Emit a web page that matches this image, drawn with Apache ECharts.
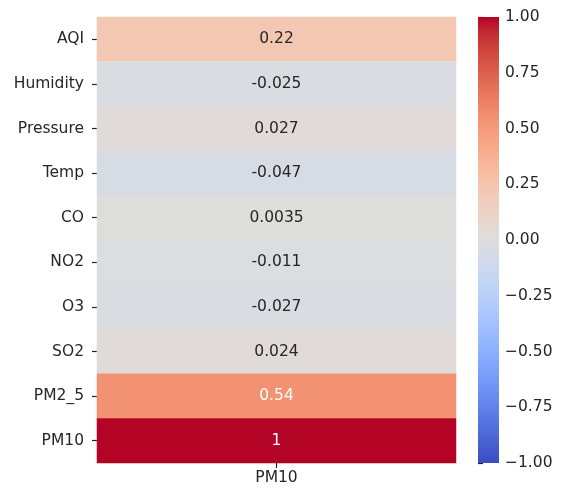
<!DOCTYPE html>
<html>
<head>
<meta charset="utf-8">
<script src="https://cdn.jsdelivr.net/npm/echarts@6/dist/echarts.min.js"></script>
<style>html,body{margin:0;padding:0;background:#fff}#chart{width:562px;height:490px}</style>
</head>
<body>
<div id="chart"></div>
<script>
const rowLabels = ['AQI', 'Humidity', 'Pressure', 'Temp', 'CO', 'NO2', 'O3', 'SO2', 'PM2_5', 'PM10'];
const colLabels = ['PM10'];
const corrValues = [0.22, -0.025, 0.027, -0.047, 0.0035, -0.011, -0.027, 0.024, 0.54, 1];
const colorbarTicks = [-1, -0.75, -0.5, -0.25, 0, 0.25, 0.5, 0.75, 1];

// coolwarm (Moreland) 33 evenly spaced stops
const coolwarm = [
  [59,76,192],[68,90,204],[77,104,215],[87,117,225],[98,130,234],[108,142,241],[119,154,247],[130,165,251],
  [141,176,254],[152,185,255],[163,194,255],[174,201,253],[184,208,249],[194,213,244],[204,217,238],[213,219,230],
  [221,221,221],[229,216,209],[236,211,197],[241,204,185],[245,196,173],[247,187,160],[247,177,148],[247,166,135],
  [244,154,123],[241,141,111],[236,127,99],[229,112,88],[222,96,77],[213,80,66],[203,62,56],[192,40,47],[180,4,38]
].map(c => 'rgb(' + c.join(',') + ')');
const FONT = 'DejaVu Sans';
const FS = 15.5;
const TICK = { color: '#222', width: 1.2 };

const chart = echarts.init(document.getElementById('chart'));
const data = corrValues.map((v, i) => ({
  value: [0, i, v],
  label: { color: Math.abs(v) > 0.5 ? '#ffffff' : '#262626' }
}));

const gradStops = coolwarm.map((c, i) => ({ offset: 1 - i / (coolwarm.length - 1), color: c })).reverse();

chart.setOption({
  animation: false,
  grid: [
    { left: 97, right: 106, top: 17, bottom: 27 },
    { left: 478, width: 21, top: 17, bottom: 27 }
  ],
  xAxis: [
    { type: 'category', data: colLabels, gridIndex: 0,
      axisLine: { show: false },
      axisTick: { show: true, length: 5, alignWithLabel: true, lineStyle: TICK },
      axisLabel: { fontFamily: FONT, fontSize: FS, color: '#262626', margin: 7 },
      splitArea: { show: false } },
    { type: 'value', gridIndex: 1, show: false, min: 0, max: 1 }
  ],
  yAxis: [
    { type: 'category', data: rowLabels, inverse: true, gridIndex: 0,
      axisLine: { show: false },
      axisTick: { show: true, length: 5, alignWithLabel: true, lineStyle: TICK },
      axisLabel: { fontFamily: FONT, fontSize: FS, color: '#262626', margin: 13 } },
    { type: 'value', gridIndex: 1, position: 'right', min: -1, max: 1, interval: 0.25,
      axisLine: { show: false },
      splitLine: { show: false },
      axisTick: { show: true, length: 5, lineStyle: TICK },
      axisLabel: { fontFamily: FONT, fontSize: FS, color: '#262626', margin: 6,
        formatter: v => v.toFixed(2).replace('-', '\u2212') } }
  ],
  visualMap: {
    type: 'continuous',
    show: false,
    min: -1, max: 1,
    seriesIndex: 0,
    inRange: { color: coolwarm }
  },
  series: [
    { type: 'heatmap', xAxisIndex: 0, yAxisIndex: 0, data: data,
      label: { show: true, fontFamily: FONT, fontSize: FS,
        formatter: p => String(p.value[2]) },
      emphasis: { disabled: true } },
    { type: 'custom', xAxisIndex: 1, yAxisIndex: 1, silent: true,
      data: [[0, colorbarTicks[colorbarTicks.length - 1], 1, colorbarTicks[0]]],
      renderItem: (params, api) => {
        const p1 = api.coord([api.value(0), api.value(1)]);
        const p2 = api.coord([api.value(2), api.value(3)]);
        return {
          type: 'rect',
          shape: { x: p1[0], y: p1[1], width: p2[0] - p1[0], height: p2[1] - p1[1] },
          style: { fill: new echarts.graphic.LinearGradient(0, 0, 0, 1, gradStops) }
        };
      } }
  ]
});
</script>
</body>
</html>
